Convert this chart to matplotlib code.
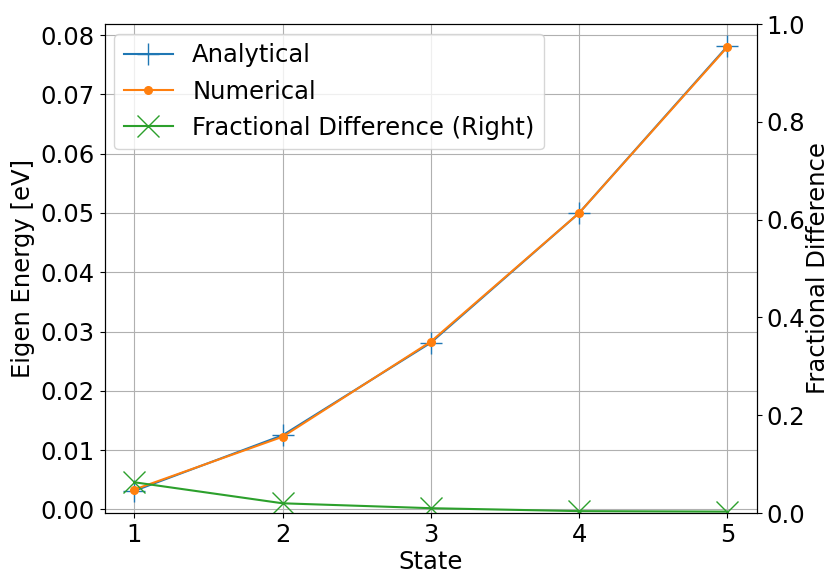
import numpy as np
import matplotlib
matplotlib.use("Agg")
import matplotlib.pyplot as plt

# eigen energies for the first five states
state = np.array([1, 2, 3, 4, 5])
analytical = np.array([0.003125, 0.0125, 0.028125, 0.05, 0.078125])
numerical = np.array([0.00335, 0.01225, 0.0283, 0.0500, 0.0780])
frac_diff = np.array([0.063, 0.020, 0.010, 0.004, 0.003])

plt.rcParams['font.size'] = 17.5

fig, ax = plt.subplots(figsize=(8.31, 5.72), dpi=100)
fig.subplots_adjust(left=0.126, right=0.911, top=0.958, bottom=0.103)

l1, = ax.plot(state, analytical, color='tab:blue', marker='+', markersize=16, label='Analytical')
l2, = ax.plot(state, numerical, color='tab:orange', marker='.', markersize=11, label='Numerical')
ax.set_xlabel('State', labelpad=2)
ax.set_ylabel('Eigen Energy [eV]')
ax.set_xticks(state)
ax.grid(True)

ax2 = ax.twinx()
l3, = ax2.plot(state, frac_diff, color='tab:green', marker='x', markersize=16,
               label='Fractional Difference (Right)')
ax2.set_ylim(0, 1.0)
ax2.set_ylabel('Fractional Difference', labelpad=0)

ax.legend(handles=[l1, l2, l3], loc='upper left', borderaxespad=0.4)

plt.savefig('out.png')
